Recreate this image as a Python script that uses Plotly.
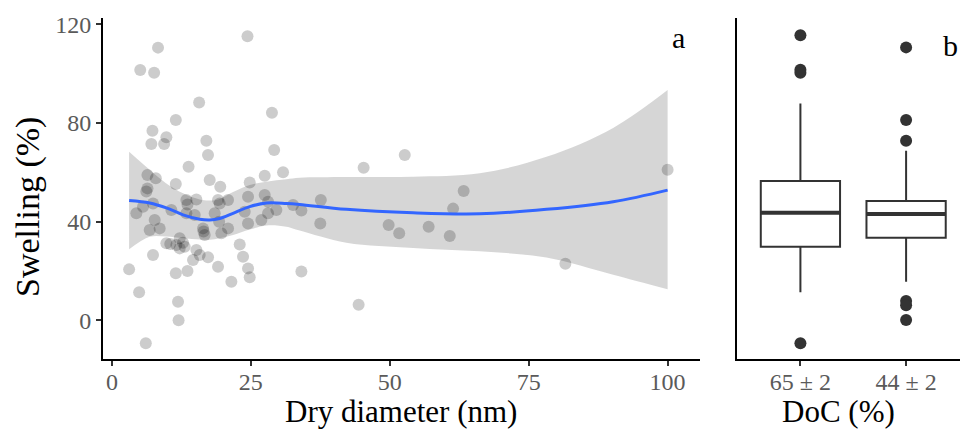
import plotly.graph_objects as go

# panel a: dry diameter (nm) vs swelling (%)
dry_diameter = [24.4, 8.3, 5.1, 7.6, 15.7, 28.8, 11.5, 7.3, 9.8, 7.1,
                9.4, 17.0, 17.3, 29.2, 13.8, 30.8, 27.5, 6.4, 7.9, 11.5,
                17.6, 24.8, 19.5, 6.4, 6.2, 13.4, 15.2, 19.1, 20.9, 24.5,
                27.5, 28.1, 29.6, 32.6, 4.4, 5.6, 7.4, 7.7, 10.7, 13.4,
                14.9, 18.5, 19.3, 24.5, 26.9, 28.1, 6.8, 8.6, 16.4, 16.7,
                19.7, 20.9, 9.8, 12.2, 11.6, 12.2, 13.1, 23.0, 7.4, 15.2,
                14.6, 15.8, 17.3, 19.1, 23.6, 24.5, 24.8, 21.5, 11.5, 13.6,
                3.1, 4.9, 11.9, 12.0, 6.1, 34.1, 37.6, 37.5, 45.3, 34.1,
                52.7, 49.8, 51.7, 57.0, 60.8, 61.4, 63.3, 100.0, 81.6, 44.4,
                13.6, 19.4, 10.5, 12.8, 16.5, 23.9]
swelling = [115.1, 110.5, 101.4, 100.3, 88.3, 84.1, 81.2, 76.8, 74.2, 71.5,
            71.5, 72.8, 67.0, 69.0, 62.3, 60.0, 58.6, 58.9, 57.6, 55.3,
            56.9, 55.9, 54.2, 53.5, 52.2, 48.8, 49.0, 48.8, 48.8, 50.1,
            50.8, 48.1, 44.7, 46.8, 43.4, 46.1, 47.4, 40.7, 44.7, 43.4,
            42.7, 43.4, 40.0, 39.3, 40.7, 43.4, 36.6, 37.3, 37.3, 34.6,
            35.3, 37.3, 31.3, 33.3, 30.6, 29.2, 29.9, 30.8, 26.5, 28.5,
            24.5, 26.5, 25.6, 21.8, 25.8, 21.1, 17.5, 15.7, 19.1, 20.0,
            20.7, 11.4, 7.6, 0.1, -9.2, 44.5, 48.8, 39.3, 61.9, 19.8,
            67.0, 38.7, 35.3, 38.0, 34.2, 45.3, 52.4, 61.0, 23.0, 6.4,
            47.0, 47.4, 31.0, 31.5, 36.0, 44.0]

# loess smooth and its confidence band
smooth_x = [3.1, 6.8, 9.8, 12.8, 15.8, 17.6, 19.4, 21.8, 24.8, 27.8,
            31.4, 33.8, 42.2, 54.2, 66.2, 78.2, 90.2, 100.0]
smooth_y = [48.6, 47.6, 45.6, 42.8, 41.0, 40.7, 41.3, 43.4, 46.1, 47.6,
            47.4, 47.0, 45.0, 43.6, 43.2, 45.0, 48.1, 52.8]
band_hi = [68.3, 61.0, 55.5, 51.5, 49.0, 48.6, 49.2, 52.0, 54.9, 56.2,
           57.2, 57.8, 58.1, 58.2, 59.6, 66.3, 78.0, 93.3]
band_lo = [28.8, 33.9, 34.0, 33.3, 32.8, 32.7, 33.3, 34.6, 36.8, 38.5,
           38.0, 36.4, 31.5, 29.4, 28.0, 25.5, 18.5, 12.6]

# panel b: boxplot summaries by DoC
doc_pos = [1, 2]
doc_labels = ["65 ± 2", "44 ± 2"]
box_q1 = [29.9, 33.5]
box_median = [43.6, 43.1]
box_q3 = [56.5, 48.4]
box_low = [11.4, 15.7]
box_high = [87.9, 68.7]
outliers = [[115.5, 101.5, 100.3, -9.2], [110.6, 81.2, 72.8, 7.9, 6.2, 0.2]]

FONT = "Liberation Serif"
BOXW = 0.75

fig = go.Figure()

# confidence band: lower edge then upper edge filled to it
fig.add_trace(go.Scatter(x=smooth_x, y=band_lo, mode="lines", line_shape="spline",
                         line=dict(width=0), hoverinfo="skip", showlegend=False))
fig.add_trace(go.Scatter(x=smooth_x, y=band_hi, mode="lines", line_shape="spline",
                         line=dict(width=0), fill="tonexty",
                         fillcolor="rgba(153,153,153,0.4)",
                         hoverinfo="skip", showlegend=False))
fig.add_trace(go.Scatter(x=dry_diameter, y=swelling, mode="markers",
                         marker=dict(size=12, color="rgba(0,0,0,0.2)", line=dict(width=0)),
                         showlegend=False))
fig.add_trace(go.Scatter(x=smooth_x, y=smooth_y, mode="lines", line_shape="spline",
                         line=dict(color="#3366FF", width=3), showlegend=False))

for i, p in enumerate(doc_pos):
    fig.add_trace(go.Box(x=[p], q1=[box_q1[i]], median=[box_median[i]], q3=[box_q3[i]],
                         lowerfence=[box_low[i]], upperfence=[box_high[i]],
                         width=BOXW, whiskerwidth=0, boxpoints=False,
                         fillcolor="white", line=dict(color="#333333", width=2),
                         xaxis="x2", yaxis="y2", showlegend=False))
    fig.add_trace(go.Scatter(x=[p - BOXW / 2, p + BOXW / 2], y=[box_median[i]] * 2,
                             mode="lines", line=dict(color="#333333", width=4),
                             xaxis="x2", yaxis="y2", showlegend=False))
    fig.add_trace(go.Scatter(x=[p] * len(outliers[i]), y=outliers[i], mode="markers",
                             marker=dict(size=12, color="#333333"),
                             xaxis="x2", yaxis="y2", showlegend=False))

axis_common = dict(showline=True, linecolor="black", linewidth=2, showgrid=False,
                   zeroline=False, ticks="outside", tickcolor="#333333", ticklen=5,
                   tickwidth=1.5, automargin=False,
                   tickfont=dict(family=FONT, size=24, color="#5a5a5a"))

fig.update_layout(
    width=960, height=430,
    margin=dict(l=0, r=0, t=18, b=71),
    plot_bgcolor="white", paper_bgcolor="white",
    font=dict(family=FONT, color="black"),
    xaxis=dict(domain=[103 / 960, 0.729], range=[-1.6, 105.8],
               tickvals=[0, 25, 50, 75, 100], ticklabelstandoff=-5, **axis_common),
    yaxis=dict(range=[-15.6, 122.5], tickvals=[0, 40, 80, 120], **axis_common),
    xaxis2=dict(domain=[737 / 960, 1.0], range=[0.4, 2.51], anchor="y2",
                tickvals=doc_pos, ticktext=doc_labels, ticklabelstandoff=-5,
                **axis_common),
    yaxis2=dict(range=[-15.6, 122.5], anchor="x2", showline=True, linecolor="black",
                linewidth=2, showgrid=False, zeroline=False, showticklabels=False,
                ticks="", automargin=False),
)

# axis titles and panel letters
labels = [
    dict(text="Dry diameter (nm)", x=401, y=411, angle=0, size=31),
    dict(text="DoC (%)", x=838, y=411, angle=0, size=31),
    dict(text="Swelling (%)", x=28, y=207, angle=-90, size=34),
    dict(text="a", x=678, y=38, angle=0, size=30),
    dict(text="b", x=950, y=45, angle=0, size=30),
]
for lab in labels:
    fig.add_annotation(text=lab["text"], x=lab["x"] / 960, y=(359 - lab["y"]) / 341,
                       xref="paper", yref="paper", showarrow=False, textangle=lab["angle"],
                       font=dict(family=FONT, size=lab["size"], color="black"),
                       xanchor="center", yanchor="middle")

# drop the default page margin so the figure sits at the window's corner
fig.write_html("out.html", config={"displayModeBar": False},
               post_script="document.body.style.margin='0';")
